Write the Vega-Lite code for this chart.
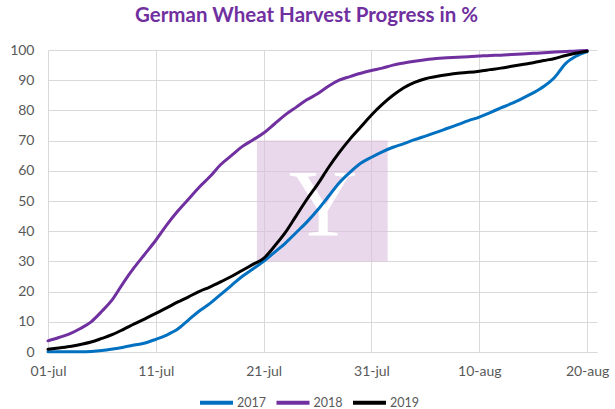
{
  "$schema": "https://vega.github.io/schema/vega-lite/v6.json",
  "width": 549,
  "height": 302,
  "autosize": "none",
  "padding": {"left": 48, "top": 50, "right": 18, "bottom": 57},
  "background": "white",
  "config": {
    "font": "Lato",
    "view": {"stroke": null},
    "axis": {"labelFont": "Lato", "labelFontSize": 14, "labelColor": "#595959", "gridColor": "#d9d9d9", "gridWidth": 1, "ticks": false, "domain": false, "title": null, "labelOverlap": false, "labelFlush": false, "labelBound": false}
  },
  "title": {
    "text": "German Wheat Harvest Progress in %",
    "color": "#7030A0",
    "fontSize": 20.5,
    "fontWeight": "bold",
    "font": "Lato",
    "anchor": "middle",
    "dx": -16,
    "offset": 17
  },
  "datasets": {
    "progress": [
      {"date": "2019-07-01", "year": "2017", "pct": 0.1}, {"date": "2019-07-02", "year": "2017", "pct": 0.1}, {"date": "2019-07-03", "year": "2017", "pct": 0.1}, {"date": "2019-07-04", "year": "2017", "pct": 0.1}, {"date": "2019-07-05", "year": "2017", "pct": 0.2}, {"date": "2019-07-06", "year": "2017", "pct": 0.5}, {"date": "2019-07-07", "year": "2017", "pct": 1.0}, {"date": "2019-07-08", "year": "2017", "pct": 1.6}, {"date": "2019-07-09", "year": "2017", "pct": 2.3}, {"date": "2019-07-10", "year": "2017", "pct": 3.0}, {"date": "2019-07-11", "year": "2017", "pct": 4.2}, {"date": "2019-07-12", "year": "2017", "pct": 5.6}, {"date": "2019-07-13", "year": "2017", "pct": 7.5}, {"date": "2019-07-14", "year": "2017", "pct": 10.5}, {"date": "2019-07-15", "year": "2017", "pct": 13.5}, {"date": "2019-07-16", "year": "2017", "pct": 16.0}, {"date": "2019-07-17", "year": "2017", "pct": 19.0}, {"date": "2019-07-18", "year": "2017", "pct": 22.0}, {"date": "2019-07-19", "year": "2017", "pct": 25.0}, {"date": "2019-07-20", "year": "2017", "pct": 27.5}, {"date": "2019-07-21", "year": "2017", "pct": 30.0}, {"date": "2019-07-22", "year": "2017", "pct": 33.0}, {"date": "2019-07-23", "year": "2017", "pct": 36.0}, {"date": "2019-07-24", "year": "2017", "pct": 39.5}, {"date": "2019-07-25", "year": "2017", "pct": 43.0}, {"date": "2019-07-26", "year": "2017", "pct": 47.0}, {"date": "2019-07-27", "year": "2017", "pct": 51.5}, {"date": "2019-07-28", "year": "2017", "pct": 56.0}, {"date": "2019-07-29", "year": "2017", "pct": 59.5}, {"date": "2019-07-30", "year": "2017", "pct": 62.5}, {"date": "2019-07-31", "year": "2017", "pct": 64.5}, {"date": "2019-08-01", "year": "2017", "pct": 66.3}, {"date": "2019-08-02", "year": "2017", "pct": 67.8}, {"date": "2019-08-03", "year": "2017", "pct": 69.0}, {"date": "2019-08-04", "year": "2017", "pct": 70.3}, {"date": "2019-08-05", "year": "2017", "pct": 71.5}, {"date": "2019-08-06", "year": "2017", "pct": 72.7}, {"date": "2019-08-07", "year": "2017", "pct": 74.0}, {"date": "2019-08-08", "year": "2017", "pct": 75.3}, {"date": "2019-08-09", "year": "2017", "pct": 76.6}, {"date": "2019-08-10", "year": "2017", "pct": 77.8}, {"date": "2019-08-11", "year": "2017", "pct": 79.3}, {"date": "2019-08-12", "year": "2017", "pct": 80.8}, {"date": "2019-08-13", "year": "2017", "pct": 82.3}, {"date": "2019-08-14", "year": "2017", "pct": 84.0}, {"date": "2019-08-15", "year": "2017", "pct": 85.8}, {"date": "2019-08-16", "year": "2017", "pct": 88.0}, {"date": "2019-08-17", "year": "2017", "pct": 91.0}, {"date": "2019-08-18", "year": "2017", "pct": 95.5}, {"date": "2019-08-19", "year": "2017", "pct": 98.0}, {"date": "2019-08-20", "year": "2017", "pct": 99.5},
      {"date": "2019-07-01", "year": "2018", "pct": 3.7}, {"date": "2019-07-02", "year": "2018", "pct": 4.8}, {"date": "2019-07-03", "year": "2018", "pct": 6.0}, {"date": "2019-07-04", "year": "2018", "pct": 7.8}, {"date": "2019-07-05", "year": "2018", "pct": 10.0}, {"date": "2019-07-06", "year": "2018", "pct": 13.5}, {"date": "2019-07-07", "year": "2018", "pct": 17.5}, {"date": "2019-07-08", "year": "2018", "pct": 23.0}, {"date": "2019-07-09", "year": "2018", "pct": 28.0}, {"date": "2019-07-10", "year": "2018", "pct": 32.5}, {"date": "2019-07-11", "year": "2018", "pct": 37.0}, {"date": "2019-07-12", "year": "2018", "pct": 42.0}, {"date": "2019-07-13", "year": "2018", "pct": 46.5}, {"date": "2019-07-14", "year": "2018", "pct": 50.5}, {"date": "2019-07-15", "year": "2018", "pct": 54.5}, {"date": "2019-07-16", "year": "2018", "pct": 58.0}, {"date": "2019-07-17", "year": "2018", "pct": 62.0}, {"date": "2019-07-18", "year": "2018", "pct": 65.0}, {"date": "2019-07-19", "year": "2018", "pct": 68.0}, {"date": "2019-07-20", "year": "2018", "pct": 70.2}, {"date": "2019-07-21", "year": "2018", "pct": 72.5}, {"date": "2019-07-22", "year": "2018", "pct": 75.5}, {"date": "2019-07-23", "year": "2018", "pct": 78.5}, {"date": "2019-07-24", "year": "2018", "pct": 81.0}, {"date": "2019-07-25", "year": "2018", "pct": 83.5}, {"date": "2019-07-26", "year": "2018", "pct": 85.5}, {"date": "2019-07-27", "year": "2018", "pct": 88.0}, {"date": "2019-07-28", "year": "2018", "pct": 90.0}, {"date": "2019-07-29", "year": "2018", "pct": 91.2}, {"date": "2019-07-30", "year": "2018", "pct": 92.3}, {"date": "2019-07-31", "year": "2018", "pct": 93.2}, {"date": "2019-08-01", "year": "2018", "pct": 94.0}, {"date": "2019-08-02", "year": "2018", "pct": 95.0}, {"date": "2019-08-03", "year": "2018", "pct": 95.7}, {"date": "2019-08-04", "year": "2018", "pct": 96.3}, {"date": "2019-08-05", "year": "2018", "pct": 96.8}, {"date": "2019-08-06", "year": "2018", "pct": 97.2}, {"date": "2019-08-07", "year": "2018", "pct": 97.4}, {"date": "2019-08-08", "year": "2018", "pct": 97.6}, {"date": "2019-08-09", "year": "2018", "pct": 97.8}, {"date": "2019-08-10", "year": "2018", "pct": 98.0}, {"date": "2019-08-11", "year": "2018", "pct": 98.2}, {"date": "2019-08-12", "year": "2018", "pct": 98.3}, {"date": "2019-08-13", "year": "2018", "pct": 98.5}, {"date": "2019-08-14", "year": "2018", "pct": 98.7}, {"date": "2019-08-15", "year": "2018", "pct": 98.9}, {"date": "2019-08-16", "year": "2018", "pct": 99.1}, {"date": "2019-08-17", "year": "2018", "pct": 99.3}, {"date": "2019-08-18", "year": "2018", "pct": 99.5}, {"date": "2019-08-19", "year": "2018", "pct": 99.7}, {"date": "2019-08-20", "year": "2018", "pct": 99.8},
      {"date": "2019-07-01", "year": "2019", "pct": 0.9}, {"date": "2019-07-02", "year": "2019", "pct": 1.3}, {"date": "2019-07-03", "year": "2019", "pct": 1.8}, {"date": "2019-07-04", "year": "2019", "pct": 2.5}, {"date": "2019-07-05", "year": "2019", "pct": 3.3}, {"date": "2019-07-06", "year": "2019", "pct": 4.5}, {"date": "2019-07-07", "year": "2019", "pct": 5.8}, {"date": "2019-07-08", "year": "2019", "pct": 7.5}, {"date": "2019-07-09", "year": "2019", "pct": 9.3}, {"date": "2019-07-10", "year": "2019", "pct": 11.0}, {"date": "2019-07-11", "year": "2019", "pct": 12.8}, {"date": "2019-07-12", "year": "2019", "pct": 14.6}, {"date": "2019-07-13", "year": "2019", "pct": 16.5}, {"date": "2019-07-14", "year": "2019", "pct": 18.2}, {"date": "2019-07-15", "year": "2019", "pct": 20.0}, {"date": "2019-07-16", "year": "2019", "pct": 21.5}, {"date": "2019-07-17", "year": "2019", "pct": 23.2}, {"date": "2019-07-18", "year": "2019", "pct": 25.0}, {"date": "2019-07-19", "year": "2019", "pct": 27.0}, {"date": "2019-07-20", "year": "2019", "pct": 29.0}, {"date": "2019-07-21", "year": "2019", "pct": 31.0}, {"date": "2019-07-22", "year": "2019", "pct": 35.0}, {"date": "2019-07-23", "year": "2019", "pct": 39.5}, {"date": "2019-07-24", "year": "2019", "pct": 45.0}, {"date": "2019-07-25", "year": "2019", "pct": 50.5}, {"date": "2019-07-26", "year": "2019", "pct": 55.5}, {"date": "2019-07-27", "year": "2019", "pct": 61.0}, {"date": "2019-07-28", "year": "2019", "pct": 66.0}, {"date": "2019-07-29", "year": "2019", "pct": 70.5}, {"date": "2019-07-30", "year": "2019", "pct": 74.5}, {"date": "2019-07-31", "year": "2019", "pct": 78.5}, {"date": "2019-08-01", "year": "2019", "pct": 82.0}, {"date": "2019-08-02", "year": "2019", "pct": 85.0}, {"date": "2019-08-03", "year": "2019", "pct": 87.5}, {"date": "2019-08-04", "year": "2019", "pct": 89.3}, {"date": "2019-08-05", "year": "2019", "pct": 90.5}, {"date": "2019-08-06", "year": "2019", "pct": 91.2}, {"date": "2019-08-07", "year": "2019", "pct": 91.8}, {"date": "2019-08-08", "year": "2019", "pct": 92.3}, {"date": "2019-08-09", "year": "2019", "pct": 92.6}, {"date": "2019-08-10", "year": "2019", "pct": 93.0}, {"date": "2019-08-11", "year": "2019", "pct": 93.5}, {"date": "2019-08-12", "year": "2019", "pct": 94.0}, {"date": "2019-08-13", "year": "2019", "pct": 94.6}, {"date": "2019-08-14", "year": "2019", "pct": 95.2}, {"date": "2019-08-15", "year": "2019", "pct": 95.8}, {"date": "2019-08-16", "year": "2019", "pct": 96.5}, {"date": "2019-08-17", "year": "2019", "pct": 97.2}, {"date": "2019-08-18", "year": "2019", "pct": 98.2}, {"date": "2019-08-19", "year": "2019", "pct": 99.0}, {"date": "2019-08-20", "year": "2019", "pct": 99.6}
    ],
    "watermark": [
      {"start": "2019-07-20T09:00:00Z", "end": "2019-08-01T12:00:00Z", "low": 30, "high": 70, "mid": "2019-07-26T12:00:00Z", "base": 38.5, "glyph": "Y"}
    ]
  },
  "encoding": {
    "x": {
      "type": "temporal",
      "scale": {"type": "utc", "domain": ["2019-07-01T00:00:00Z", "2019-08-20T22:00:00Z"]},
      "axis": {
        "values": ["2019-07-01T00:00:00Z", "2019-07-11T00:00:00Z", "2019-07-21T00:00:00Z", "2019-07-31T00:00:00Z", "2019-08-10T00:00:00Z", "2019-08-20T00:00:00Z"],
        "labelExpr": "lower(utcFormat(datum.value, '%d-%b'))",
        "labelPadding": 12,
        "domain": true,
        "domainColor": "#d9d9d9",
        "grid": true
      }
    },
    "y": {
      "type": "quantitative",
      "scale": {"domain": [0, 100], "nice": false},
      "axis": {"values": [0, 10, 20, 30, 40, 50, 60, 70, 80, 90, 100], "labelPadding": 14, "grid": true}
    }
  },
  "layer": [
    {
      "data": {"name": "watermark"},
      "mark": {"type": "rect", "color": "#dabedf", "opacity": 0.6},
      "encoding": {
        "x": {"field": "start", "type": "temporal"},
        "x2": {"field": "end"},
        "y": {"field": "low", "type": "quantitative"},
        "y2": {"field": "high"}
      }
    },
    {
      "data": {"name": "watermark"},
      "mark": {"type": "text", "font": "Liberation Serif", "fontSize": 95, "color": "white", "baseline": "alphabetic", "align": "center"},
      "encoding": {
        "x": {"field": "mid", "type": "temporal"},
        "y": {"field": "base", "type": "quantitative"},
        "text": {"field": "glyph"}
      }
    },
    {
      "data": {"name": "progress"},
      "mark": {"type": "line", "strokeWidth": 3, "interpolate": "monotone", "strokeCap": "round", "strokeJoin": "round"},
      "encoding": {
        "x": {"field": "date", "type": "temporal"},
        "y": {"field": "pct", "type": "quantitative"},
        "color": {
          "field": "year", "type": "nominal",
          "scale": {"domain": ["2017", "2018", "2019"], "range": ["#0070C0", "#7030A0", "#000000"]},
          "legend": {
            "title": null,
            "orient": "none",
            "direction": "horizontal",
            "legendX": 150,
            "legendY": 334,
            "symbolType": "stroke",
            "symbolSize": 1089,
            "symbolStrokeWidth": 4,
            "labelFontSize": 12.5,
            "labelColor": "#595959",
            "labelFont": "Lato",
            "labelOffset": 2,
            "columnPadding": 2.5
          }
        }
      }
    }
  ]
}
